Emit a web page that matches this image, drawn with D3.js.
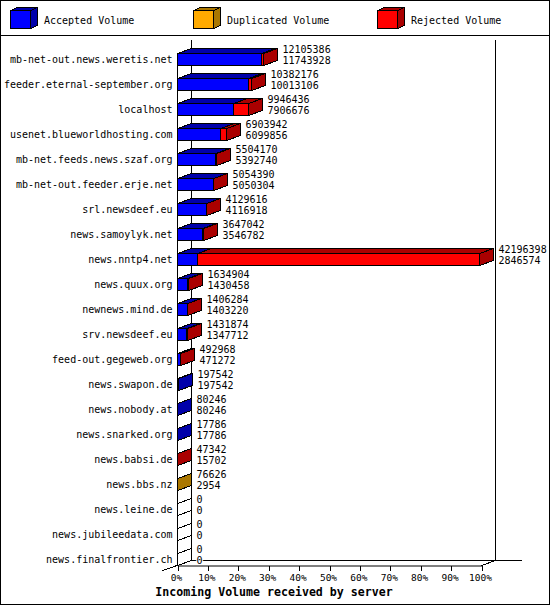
<!DOCTYPE html>
<html>
<head>
<meta charset="utf-8">
<script src="https://cdn.jsdelivr.net/npm/d3@7"></script>
<style>
  body { margin: 0; background: #fff; }
  svg { display: block; }
  text { font-family: "DejaVu Sans Mono", monospace; font-size: 10px; fill: #000; }
  polygon, line, rect { shape-rendering: crispEdges; }
</style>
</head>
<body>
<script>
var servers = ['mb-net-out.news.weretis.net', 'feeder.eternal-september.org', 'localhost',
  'usenet.blueworldhosting.com', 'mb-net.feeds.news.szaf.org', 'mb-net-out.feeder.erje.net',
  'srl.newsdeef.eu', 'news.samoylyk.net', 'news.nntp4.net', 'news.quux.org', 'newnews.mind.de',
  'srv.newsdeef.eu', 'feed-out.gegeweb.org', 'news.swapon.de', 'news.nobody.at', 'news.snarked.org',
  'news.babsi.de', 'news.bbs.nz', 'news.leine.de', 'news.jubileedata.com', 'news.finalfrontier.ch'];
var offered = [12105386, 10382176, 9946436, 6903942, 5504170, 5054390, 4129616, 3647042, 42196398,
  1634904, 1406284, 1431874, 492968, 197542, 80246, 17786, 47342, 76626, 0, 0, 0];
var accepted = [11743928, 10013106, 7906676, 6099856, 5392740, 5050304, 4116918, 3546782, 2846574,
  1430458, 1403220, 1347712, 471272, 197542, 80246, 17786, 15702, 2954, 0, 0, 0];
var duplicated = [0, 0, 0, 0, 0, 0, 0, 0, 0, 0, 0, 0, 0, 0, 0, 0, 0, 73672, 0, 0, 0];
var rejected = [361458, 369070, 2039760, 804086, 111430, 4086, 12698, 100260, 39349824,
  204446, 3064, 84162, 21696, 0, 0, 0, 31640, 0, 0, 0, 0];
var percentTicks = [0, 10, 20, 30, 40, 50, 60, 70, 80, 90, 100];
var legendNames = ['Accepted Volume', 'Duplicated Volume', 'Rejected Volume'];
var keys = ['accepted', 'duplicated', 'rejected'];
var front = { accepted: '#0000ff', duplicated: '#ffaa00', rejected: '#ff0000' };
var dark = { accepted: '#0000aa', duplicated: '#aa7700', rejected: '#aa0000' };

var W = 550, H = 605, dx = 14, dy = 5;
var left = 177.5, right = 481.5, baseY = 565.5;

var svg = d3.select('body').append('svg').attr('width', W).attr('height', H);

svg.append('rect').attr('x', 0.5).attr('y', 0.5).attr('width', W - 1).attr('height', H - 1)
  .attr('fill', '#fff').attr('stroke', '#000');
svg.append('line').attr('x1', 0).attr('x2', W).attr('y1', 35.5).attr('y2', 35.5).attr('stroke', '#000');

// legend
var legendX = [10.5, 193.5, 377.5];
keys.forEach(function (k, i) {
  var g = svg.append('g'), x0 = legendX[i], x1 = x0 + 20, y0 = 10.5, y1 = 28.5;
  g.append('polygon').attr('points', [[x0, y0], [x0 + 7, y0 - 3], [x1 + 7, y0 - 3], [x1, y0]].join(' '))
    .attr('fill', dark[k]).attr('stroke', '#000');
  g.append('polygon').attr('points', [[x1, y0], [x1 + 7, y0 - 3], [x1 + 7, y1 - 3], [x1, y1]].join(' '))
    .attr('fill', dark[k]).attr('stroke', '#000');
  g.append('rect').attr('x', x0).attr('y', y0).attr('width', x1 - x0).attr('height', y1 - y0)
    .attr('fill', front[k]).attr('stroke', '#000');
  g.append('text').attr('x', x1 + 13.5).attr('y', 20).attr('dy', '0.35em').text(legendNames[i]);
});

var x = d3.scaleLinear().domain([0, d3.max(offered)]).range([left, right - 1.5]);
var pct = d3.scaleLinear().domain([0, 100]).range([left, right]);
var y = d3.scaleBand().domain(servers).range([47, 572]).paddingInner(0.5).paddingOuter(0.25);

// walls
function wall(x1, y1, x2, y2) {
  svg.append('line').attr('x1', x1).attr('y1', y1).attr('x2', x2).attr('y2', y2).attr('stroke', '#000');
}
wall(left + dx, 40, left + dx, baseY - dy);
wall(right + dx, 40, right + dx, baseY - dy);
wall(left + dx, baseY - dy, 522, baseY - dy);
wall(left, 53.5, left, baseY);
wall(left - 15, baseY + 5, left + dx, baseY - dy);
wall(right, baseY, right + dx, baseY - dy);

// bars
var rows = servers.map(function (s, i) {
  return { server: s, offered: offered[i], accepted: accepted[i], duplicated: duplicated[i], rejected: rejected[i] };
});
var stacked = d3.stack().keys(keys)(rows);

var barG = svg.selectAll('g.row').data(rows).join('g').attr('class', 'row');
barG.each(function (d, i) {
  var g = d3.select(this);
  var y0 = Math.round(y(d.server)) + 0.5, y1 = y0 + 12;
  var last = null;
  keys.forEach(function (k, j) {
    var s = stacked[j][i];
    if (s[1] <= s[0]) return;
    last = k;
    var a = Math.floor(x(s[0]) - 0.5) + 0.5, b = Math.floor(x(s[1]) - 0.5) + 0.5;
    g.append('polygon').attr('points', [[a, y0], [a + dx, y0 - dy], [b + dx, y0 - dy], [b, y0]].join(' '))
      .attr('fill', dark[k]).attr('stroke', '#000');
    g.append('rect').attr('x', a).attr('y', y0).attr('width', b - a).attr('height', y1 - y0)
      .attr('fill', front[k]).attr('stroke', '#000');
  });
  var end = Math.floor(x(d.offered) - 0.5) + 0.5;
  g.append('polygon').attr('points', [[end, y0], [end + dx, y0 - dy], [end + dx, y1 - dy], [end, y1]].join(' '))
    .attr('fill', last ? dark[last] : '#fff').attr('stroke', '#000');
  [[d.offered, -10], [d.accepted, 1]].forEach(function (t) {
    g.append('text').attr('x', end + dx + 5).attr('y', y0 + 6 + t[1]).attr('dy', '0.35em')
      .attr('stroke', '#fff').attr('stroke-width', 2).attr('paint-order', 'stroke')
      .text(t[0]);
  });
});

// axes
var yAxis = svg.append('g').attr('transform', 'translate(' + (left - 5) + ',0)')
  .call(d3.axisLeft(y).tickSize(0).tickPadding(0));
yAxis.select('.domain').remove();
yAxis.selectAll('text').style('font-family', '"DejaVu Sans Mono", monospace').style('font-size', '10px');

var xAxis = svg.append('g').attr('transform', 'translate(0,' + baseY + ')')
  .call(d3.axisBottom(pct).tickValues(percentTicks).tickFormat(function (d) { return d + '%'; })
    .tickSize(5).tickSizeOuter(0).tickPadding(4));
xAxis.selectAll('text').style('font-family', '"DejaVu Sans Mono", monospace').style('font-size', '9.5px')
  .attr('dx', -1.5);
xAxis.selectAll('line').attr('stroke', '#000');
xAxis.select('.domain').attr('stroke', '#000');

svg.append('text').attr('x', 274).attr('y', 592).attr('dy', '0.35em').attr('text-anchor', 'middle')
  .style('font-size', '11.6px').style('font-weight', 'bold')
  .text('Incoming Volume received by server');
</script>
</body>
</html>
